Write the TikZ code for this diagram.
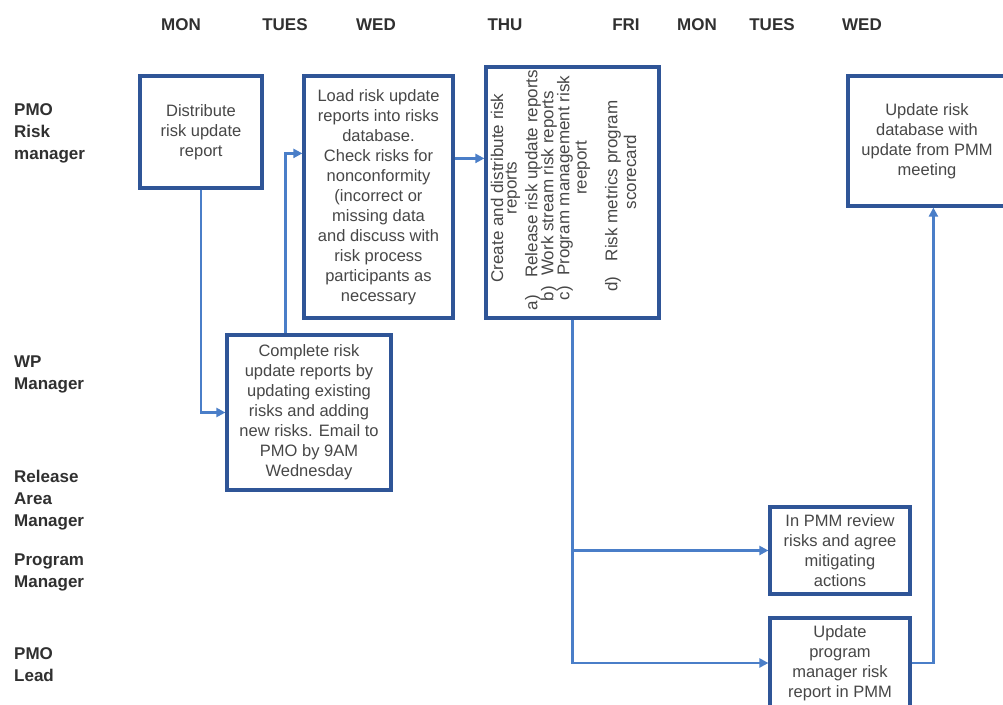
\documentclass[tikz,border=0pt]{standalone}
\usepackage{fontspec}
\setmainfont{Liberation Sans}
\usetikzlibrary{arrows.meta,calc}
\definecolor{boxblue}{HTML}{2F5597}
\definecolor{arrblue}{HTML}{4A7EC8}
\definecolor{txtgray}{HTML}{474747}
\definecolor{lblgray}{HTML}{303030}
\begin{document}
\begin{tikzpicture}[x=1pt,y=-1pt,
  box/.style={draw=boxblue,line width=3.2pt,fill=white,inner sep=0pt,
    font=\fontsize{16.5}{20}\selectfont,text=txtgray,align=center},
  rtext/.style={rotate=90,inner sep=0pt,font=\fontsize{17}{20}\selectfont,text=txtgray},
  conn/.style={draw=arrblue,line width=2.2pt},
  arr/.style={conn,-{Triangle[length=9pt,width=9pt]}},
  hdr/.style={font=\fontsize{17}{22}\bfseries\selectfont,text=lblgray,inner sep=0pt},
  rowlbl/.style={font=\fontsize{17}{22}\bfseries\selectfont,text=lblgray,align=left,anchor=west,inner sep=0pt}
]
\useasboundingbox (0,0) rectangle (1003,704);

% day headers
\node[hdr] (h1) at (181,25) {MON};
\node[hdr] (h2) at (285,25) {TUES};
\node[hdr] (h3) at (376,25) {WED};
\node[hdr] (h4) at (505,25) {THU};
\node[hdr] (h5) at (626,25) {FRI};
\node[hdr] (h6) at (697,25) {MON};
\node[hdr] (h7) at (772,25) {TUES};
\node[hdr] (h8) at (862,25) {WED};

% row labels
\node[rowlbl] (r1) at (14,133) {PMO\\Risk\\manager};
\node[rowlbl] (r2) at (14,374) {WP\\Manager};
\node[rowlbl] (r3) at (14,500) {Release\\Area\\Manager};
\node[rowlbl] (r4) at (14,572) {Program\\Manager};
\node[rowlbl] (r5) at (14,665) {PMO\\Lead};

% boxes
\node[box,minimum width=122pt,minimum height=112pt] (b1) at (201,132)
  {Distribute\\risk update\\report};
\node[box,minimum width=149pt,minimum height=242pt] (b2) at (378.5,197)
  {Load risk update\\reports into risks\\database.\\Check risks for\\nonconformity\\(incorrect or\\missing data\\and discuss with\\risk process\\participants as\\necessary};
\node[box,minimum width=173pt,minimum height=251pt] (b3) at (572.5,192.5) {};
\node[box,minimum width=158pt,minimum height=130pt] (b4) at (927,141)
  {Update risk\\database with\\update from PMM\\meeting};
\node[box,minimum width=164pt,minimum height=155pt] (b5) at (309,412.5)
  {Complete risk\\update reports by\\updating existing\\risks and adding\\new risks. Email to\\PMO by 9AM\\Wednesday};
\node[box,minimum width=140pt,minimum height=87pt] (b6) at (840,550.5)
  {In PMM review\\risks and agree\\mitigating\\actions};
\node[box,minimum width=140pt,minimum height=90pt] (b7) at (840,663)
  {Update\\program\\manager risk\\report in PMM};

% rotated text of the THU box
\node[rtext] (t1) at (497,188) {Create and distribute risk};
\node[rtext] (t2) at (513,188) {reports};
\node[rtext] (t3) at (533,190) {a)\hspace{1.0em}Release risk update reports};
\node[rtext] (t4) at (549,196) {b)\hspace{0.6em}Work stream risk reports};
\node[rtext] (t5) at (565,188) {c)\hspace{0.6em}Program management risk};
\node[rtext] (t6) at (583,168) {reeport};
\node[rtext] (t7) at (613,196) {d)\hspace{0.9em}Risk metrics program};
\node[rtext] (t8) at (630,172) {scorecard};

% connectors
\draw[arr] (b1.south) |- (b5.west);
\draw[arr] ($(b5.north west)+(60,0)$) |- ($(b2.north west)+(0,79)$);
\draw[arr] ($(b2.north east)+(0,84)$) -- ($(b3.north west)+(0,93)$);
\draw[arr] (b3.south) |- (b6.west);
\draw[arr] (b3.south) |- (b7.west);
\draw[arr] (b7.east) -| ($(b4.south west)+(87,0)$);
\end{tikzpicture}
\end{document}
